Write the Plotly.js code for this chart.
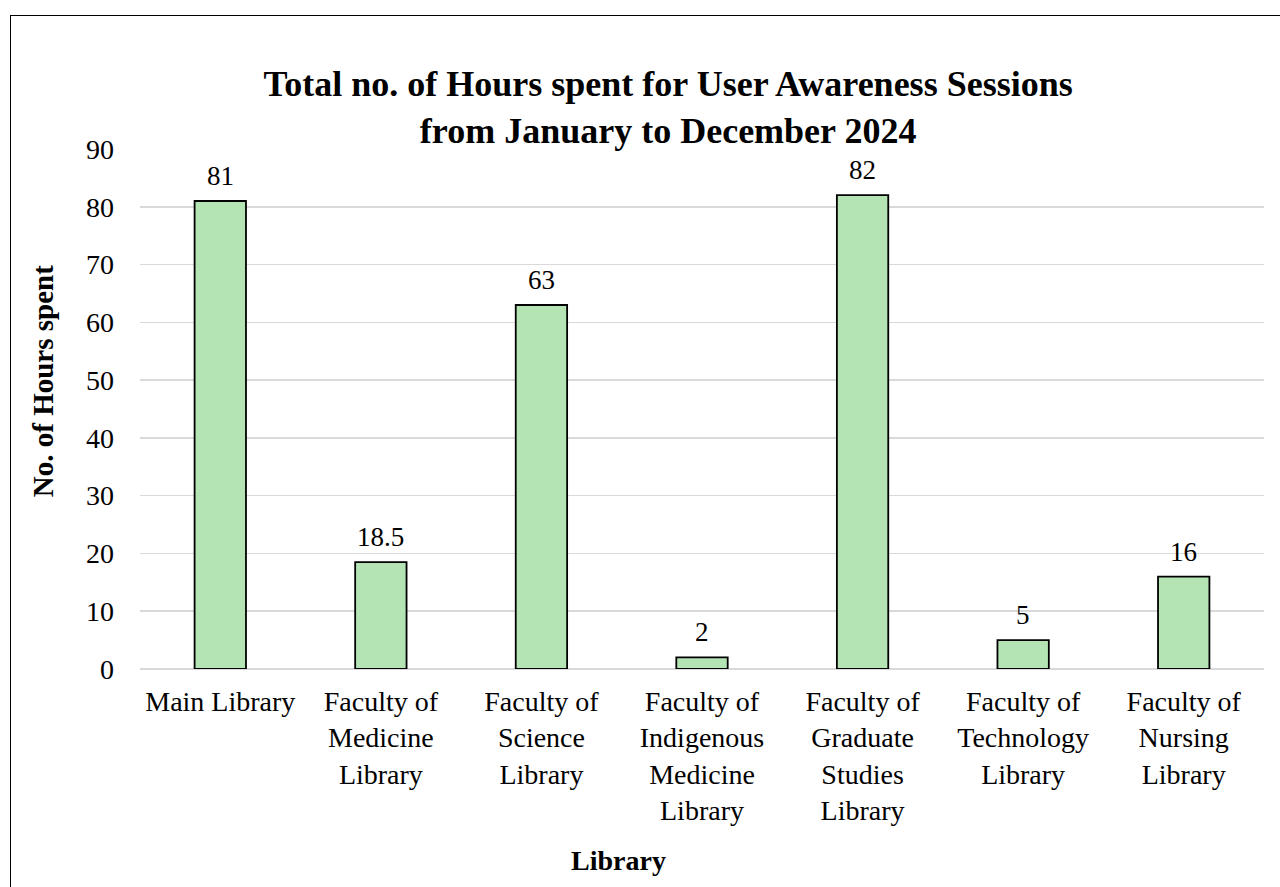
<!DOCTYPE html>
<html>
<head>
<meta charset="utf-8">
<script src="https://cdn.plot.ly/plotly-3.0.1.min.js"></script>
<style>
html,body{margin:0;padding:0;background:#fff;overflow:hidden;}
#frame{position:absolute;left:10px;top:15px;width:1290px;height:900px;border:1.5px solid #000;box-sizing:border-box;}
#chart{position:absolute;left:0;top:0;width:1280px;height:887px;}
</style>
</head>
<body>
<div id="frame"></div>
<div id="chart"></div>
<script>
const categories = [
  "Main Library",
  "Faculty of<br>Medicine<br>Library",
  "Faculty of<br>Science<br>Library",
  "Faculty of<br>Indigenous<br>Medicine<br>Library",
  "Faculty of<br>Graduate<br>Studies<br>Library",
  "Faculty of<br>Technology<br>Library",
  "Faculty of<br>Nursing<br>Library"
];
const hours = [81, 18.5, 63, 2, 82, 5, 16];
const yTicks = [0, 10, 20, 30, 40, 50, 60, 70, 80, 90];
const xTitle = "Library";
const yTitle = "No. of Hours spent";

const font = "'Liberation Serif', 'Times New Roman', serif";

const trace = {
  type: 'bar',
  x: categories,
  y: hours,
  marker: {color: '#b4e3b4', line: {color: '#000', width: 1.8}},
  hoverinfo: 'none'
};

const annotations = categories.map((c, i) => ({
  x: c, y: hours[i], xref: 'x', yref: 'y',
  text: String(hours[i]), showarrow: false,
  yanchor: 'bottom', yshift: 8,
  font: {family: font, size: 27, color: '#000'}
}));

annotations.push({
  text: '<b>' + xTitle + '</b>', showarrow: false,
  xref: 'paper', yref: 'paper',
  x: (618 - 140) / 1124, xanchor: 'center',
  y: -(860 - 668.5) / 519.5, yanchor: 'middle',
  font: {family: font, size: 28, color: '#000'}
});
annotations.push({
  text: '<b>' + yTitle + '</b>', showarrow: false, textangle: -90,
  xref: 'paper', yref: 'paper',
  x: (43 - 140) / 1124, xanchor: 'center',
  y: (668.5 - 381) / 519.5, yanchor: 'middle',
  font: {family: font, size: 29, color: '#000'}
});

const layout = {
  width: 1280, height: 887,
  paper_bgcolor: 'rgba(0,0,0,0)', plot_bgcolor: 'rgba(0,0,0,0)',
  margin: {l: 140, r: 16, t: 149, b: 218},
  bargap: 0.68,
  showlegend: false,
  font: {family: font, color: '#000'},
  title: {
    text: '<b>Total no. of Hours spent for User Awareness Sessions<br>from January to December 2024</b>',
    x: 0.522, xref: 'container', xanchor: 'center',
    y: 0.892, yref: 'container', yanchor: 'top',
    font: {family: font, size: 36, color: '#000'}
  },
  xaxis: {
    type: 'category',
    tickfont: {family: font, size: 28, color: '#000'},
    showgrid: false, showline: false, ticks: '',
    ticklabelstandoff: 13
  },
  yaxis: {
    range: [0, 90],
    tickvals: yTicks,
    tickfont: {family: font, size: 28, color: '#000'},
    showgrid: true, gridcolor: '#d9d9d9', gridwidth: 1.5,
    zeroline: true, zerolinecolor: '#d9d9d9', zerolinewidth: 1.5,
    showline: false, ticks: '',
    ticklabelstandoff: 25
  },
  annotations: annotations
};

Plotly.newPlot('chart', [trace], layout, {displayModeBar: false, staticPlot: true});
</script>
</body>
</html>
